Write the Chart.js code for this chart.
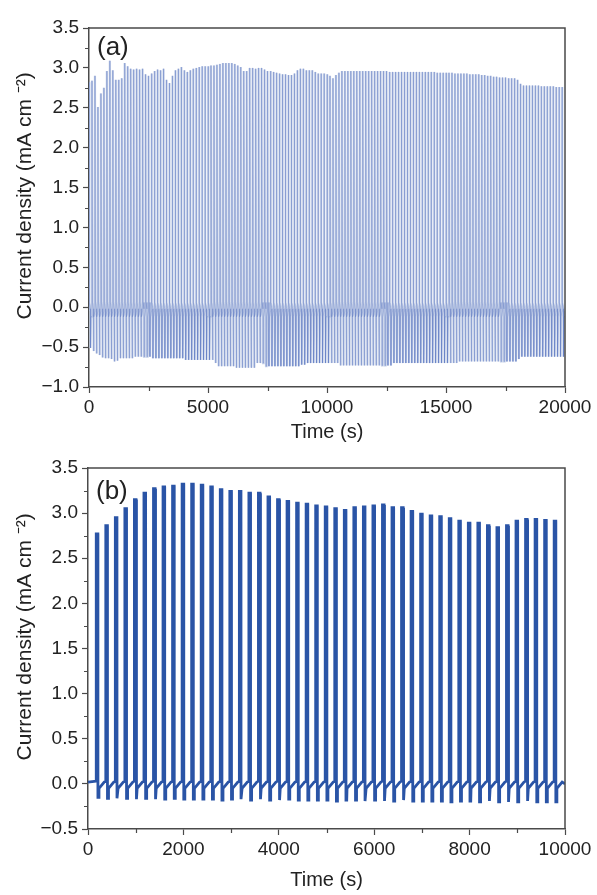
<!DOCTYPE html>
<html>
<head>
<meta charset="utf-8">
<script src="https://cdn.jsdelivr.net/npm/chart.js@4.4.1/dist/chart.umd.min.js"></script>
<style>
  html, body { margin: 0; padding: 0; background: #fff; }
  #wrapA { position: absolute; left: 0; top: 0; width: 597px; height: 450px; }
  #wrapB { position: absolute; left: 0; top: 450px; width: 597px; height: 445px; }
</style>
</head>
<body>
<div id="wrapA"><canvas id="chartA"></canvas></div>
<div id="wrapB"><canvas id="chartB"></canvas></div>
<script>
// (a) chopped-light test, one cycle every 125 s
const periodA = 125;
const peakA = [
  2.82, 2.84, 2.90, 2.51, 2.68, 2.75, 2.96, 3.09, 2.97, 2.85,
  2.85, 2.87, 3.06, 3.02, 2.99, 2.98, 2.99, 2.98, 2.99, 2.92,
  2.90, 2.93, 2.96, 2.98, 2.97, 2.99, 2.85, 2.81, 2.90, 2.97,
  2.99, 3.01, 2.97, 2.95, 2.97, 2.99, 3.00, 3.01, 3.02, 3.02,
  3.02, 3.03, 3.03, 3.04, 3.05, 3.06, 3.06, 3.06, 3.06, 3.05,
  3.03, 3.01, 2.96, 2.96, 3.00, 3.00, 2.99, 3.00, 3.00, 2.98,
  2.96, 2.96, 2.95, 2.94, 2.93, 2.92, 2.92, 2.91, 2.91, 2.93,
  2.97, 2.99, 2.99, 2.97, 2.97, 2.97, 2.95, 2.93, 2.93, 2.93,
  2.92, 2.90, 2.87, 2.91, 2.94, 2.96, 2.96, 2.96, 2.96, 2.96,
  2.96, 2.96, 2.96, 2.96, 2.96, 2.96, 2.96, 2.96, 2.96, 2.96,
  2.96, 2.95, 2.95, 2.95, 2.95, 2.95, 2.95, 2.95, 2.95, 2.95,
  2.95, 2.95, 2.95, 2.95, 2.95, 2.95, 2.95, 2.94, 2.94, 2.94,
  2.94, 2.94, 2.94, 2.93, 2.93, 2.93, 2.93, 2.93, 2.92, 2.92,
  2.92, 2.92, 2.91, 2.91, 2.90, 2.90, 2.89, 2.89, 2.88, 2.88,
  2.88, 2.87, 2.87, 2.87, 2.85, 2.80, 2.78, 2.78, 2.78, 2.78,
  2.78, 2.78, 2.77, 2.77, 2.77, 2.77, 2.77, 2.76, 2.76, 2.76
];
const troughA = [
  -0.51, -0.55, -0.58, -0.60, -0.63, -0.64, -0.64, -0.65, -0.68, -0.67,
  -0.64, -0.64, -0.64, -0.64, -0.64, -0.62, -0.62, -0.62, -0.62, -0.62,
  -0.62, -0.64, -0.64, -0.64, -0.64, -0.64, -0.64, -0.64, -0.64, -0.64,
  -0.64, -0.64, -0.66, -0.66, -0.66, -0.66, -0.66, -0.66, -0.66, -0.66,
  -0.66, -0.66, -0.70, -0.74, -0.74, -0.74, -0.74, -0.74, -0.74, -0.76,
  -0.76, -0.76, -0.76, -0.76, -0.76, -0.76, -0.70, -0.70, -0.70, -0.74,
  -0.74, -0.74, -0.74, -0.74, -0.74, -0.74, -0.74, -0.74, -0.74, -0.74,
  -0.74, -0.72, -0.72, -0.70, -0.70, -0.70, -0.70, -0.70, -0.70, -0.70,
  -0.70, -0.70, -0.70, -0.70, -0.73, -0.73, -0.73, -0.73, -0.73, -0.73,
  -0.73, -0.73, -0.73, -0.73, -0.73, -0.73, -0.73, -0.73, -0.73, -0.73,
  -0.73, -0.73, -0.70, -0.70, -0.70, -0.70, -0.70, -0.70, -0.70, -0.70,
  -0.70, -0.70, -0.70, -0.70, -0.70, -0.70, -0.70, -0.70, -0.70, -0.70,
  -0.70, -0.70, -0.70, -0.70, -0.68, -0.68, -0.68, -0.68, -0.68, -0.68,
  -0.68, -0.68, -0.68, -0.68, -0.68, -0.68, -0.68, -0.68, -0.68, -0.68,
  -0.68, -0.68, -0.68, -0.68, -0.65, -0.62, -0.62, -0.62, -0.62, -0.62,
  -0.62, -0.62, -0.62, -0.62, -0.62, -0.62, -0.62, -0.62, -0.62, -0.62
];

// (b) one pulse every 200 s, first at 190 s
const startB = 190;
const periodB = 200;
const peakB = [
  2.77, 2.86, 2.95, 3.05, 3.15, 3.22, 3.27, 3.29, 3.30, 3.32,
  3.32, 3.31, 3.29, 3.26, 3.24, 3.24, 3.22, 3.22, 3.18, 3.15,
  3.13, 3.11, 3.10, 3.08, 3.07, 3.05, 3.03, 3.06, 3.07, 3.08,
  3.09, 3.06, 3.06, 3.02, 2.99, 2.97, 2.96, 2.94, 2.91, 2.89,
  2.89, 2.86, 2.84, 2.86, 2.91, 2.93, 2.93, 2.92, 2.91
];
const dipB = [
  -0.15, -0.16, -0.16, -0.16, -0.17, -0.16, -0.17, -0.17, -0.16, -0.17,
  -0.17, -0.17, -0.17, -0.18, -0.17, -0.17, -0.18, -0.17, -0.18, -0.18,
  -0.17, -0.18, -0.18, -0.18, -0.18, -0.19, -0.18, -0.18, -0.19, -0.18,
  -0.19, -0.19, -0.18, -0.19, -0.19, -0.19, -0.19, -0.20, -0.19, -0.19,
  -0.20, -0.19, -0.20, -0.20, -0.20, -0.19, -0.20, -0.20, -0.20
];

const yTicksA = { min: -1.0, max: 3.5, step: 0.5 };
const xTicksA = { min: 0, max: 20000, step: 5000 };
const yTicksB = { min: -0.5, max: 3.5, step: 0.5 };
const xTicksB = { min: 0, max: 10000, step: 2000 };

const yTitle = '    Current density (mA cm \u207B\u00B2)';
const xTitle = 'Time (s)';

Chart.defaults.font.family = '"Liberation Sans", Arial, sans-serif';
Chart.defaults.color = '#222';

// build the traces
const traceA = [];
peakA.forEach((p, i) => {
  const t = i * periodA;
  traceA.push({ x: t, y: -0.03 });
  traceA.push({ x: t + 1, y: p });
  traceA.push({ x: t + 22, y: 0.06 });
  traceA.push({ x: t + 60, y: -0.02 });
  traceA.push({ x: t + 62, y: troughA[i] });
  traceA.push({ x: t + 85, y: -0.12 });
  traceA.push({ x: t + 124, y: -0.05 });
});

const traceB = [{ x: 0, y: 0.02 }];
peakB.forEach((p, k) => {
  const t = startB + k * periodB;
  traceB.push({ x: t - 18, y: 0.03 });
  traceB.push({ x: t - 17, y: p });
  traceB.push({ x: t + 17, y: p });
  traceB.push({ x: t + 18, y: dipB[k] });
  traceB.push({ x: t + 34, y: dipB[k] });
  traceB.push({ x: t + 40, y: -0.05 });
  traceB.push({ x: t + 150, y: 0.02 });
});
traceB.push({ x: 10000, y: 0.0 });

const minus = s => s.replace('-', '\u2212');

// frame on top/right, minor ticks, panel letter
const framePlugin = {
  id: 'framePlugin',
  afterDraw(chart, args, opts) {
    const { ctx, chartArea: a, scales: { x, y } } = chart;
    ctx.save();
    ctx.strokeStyle = '#4a4a4a';
    ctx.lineWidth = 1.5;
    ctx.beginPath();
    ctx.moveTo(a.left, a.top);
    ctx.lineTo(a.right, a.top);
    ctx.lineTo(a.right, a.bottom);
    ctx.stroke();

    ctx.lineWidth = 1.2;
    ctx.beginPath();
    for (let v = y.min + opts.yMinor; v < y.max; v += opts.yMinor * 2) {
      const py = Math.round(y.getPixelForValue(v)) + 0.5;
      ctx.moveTo(a.left - 4, py);
      ctx.lineTo(a.left, py);
    }
    for (let v = x.min + opts.xMinor; v < x.max; v += opts.xMinor * 2) {
      const px = Math.round(x.getPixelForValue(v)) + 0.5;
      ctx.moveTo(px, a.bottom);
      ctx.lineTo(px, a.bottom + 4);
    }
    ctx.stroke();

    ctx.fillStyle = '#222';
    ctx.font = '26px "Liberation Sans", Arial, sans-serif';
    ctx.textBaseline = 'middle';
    ctx.fillText(opts.label, a.left + 8, a.top + opts.labelDy);
    ctx.restore();
  }
};

function axes(xt, yt, yWidth, xHeight, titleGap) {
  return {
    x: {
      type: 'linear',
      min: xt.min, max: xt.max,
      afterFit: s => { s.height = xHeight; },
      afterBuildTicks: s => {
        s.ticks = [];
        for (let v = xt.min; v <= xt.max; v += xt.step) s.ticks.push({ value: v });
      },
      ticks: { font: { size: 19 }, padding: 3, maxRotation: 0, callback: v => String(v) },
      grid: { drawOnChartArea: false, tickLength: 6, tickColor: '#4a4a4a', tickWidth: 1.2 },
      border: { color: '#4a4a4a', width: 1.5 },
      title: { display: true, text: xTitle, font: { size: 20 }, padding: { top: 0, bottom: titleGap } }
    },
    y: {
      type: 'linear',
      min: yt.min, max: yt.max,
      afterFit: s => { s.width = yWidth; },
      afterBuildTicks: s => {
        s.ticks = [];
        for (let v = yt.min; v <= yt.max + 1e-9; v += yt.step) s.ticks.push({ value: Math.round(v * 10) / 10 });
      },
      ticks: { font: { size: 19 }, padding: 4, callback: v => minus(v.toFixed(1)) },
      grid: { drawOnChartArea: false, tickLength: 6, tickColor: '#4a4a4a', tickWidth: 1.2 },
      border: { color: '#4a4a4a', width: 1.5 },
      title: { display: true, text: yTitle, font: { size: 21 }, padding: { top: 13, bottom: 0 } }
    }
  };
}

function initializeChartA() {
  new Chart(document.getElementById('chartA'), {
    type: 'line',
    data: {
      datasets: [
        // light wash underneath, thin darker trace on top
        { data: traceA, borderColor: '#c5d0e8', borderWidth: 2.2, pointRadius: 0, tension: 0, order: 2 },
        { data: traceA, borderColor: 'rgba(78,110,188,0.38)', borderWidth: 0.8, pointRadius: 0, tension: 0, order: 1 }
      ]
    },
    options: {
      responsive: true,
      maintainAspectRatio: false,
      animation: false,
      devicePixelRatio: 1,
      layout: { padding: { top: 28, right: 32, left: 0, bottom: 0 } },
      plugins: {
        legend: { display: false },
        tooltip: { enabled: false },
        framePlugin: { yMinor: 0.25, xMinor: 2500, label: '(a)', labelDy: 20 }
      },
      scales: axes(xTicksA, yTicksA, 89, 63, 6)
    },
    plugins: [framePlugin]
  });
}

function initializeChartB() {
  new Chart(document.getElementById('chartB'), {
    type: 'line',
    data: {
      datasets: [
        { data: traceB, borderColor: '#2a54a6', borderWidth: 2.8, pointRadius: 0, tension: 0 }
      ]
    },
    options: {
      responsive: true,
      maintainAspectRatio: false,
      animation: false,
      devicePixelRatio: 1,
      layout: { padding: { top: 18, right: 32, left: 0, bottom: 0 } },
      plugins: {
        legend: { display: false },
        tooltip: { enabled: false },
        framePlugin: { yMinor: 0.25, xMinor: 1000, label: '(b)', labelDy: 24 }
      },
      scales: axes(xTicksB, yTicksB, 88, 66, 3)
    },
    plugins: [framePlugin]
  });
}

initializeChartA();
initializeChartB();
</script>
</body>
</html>
